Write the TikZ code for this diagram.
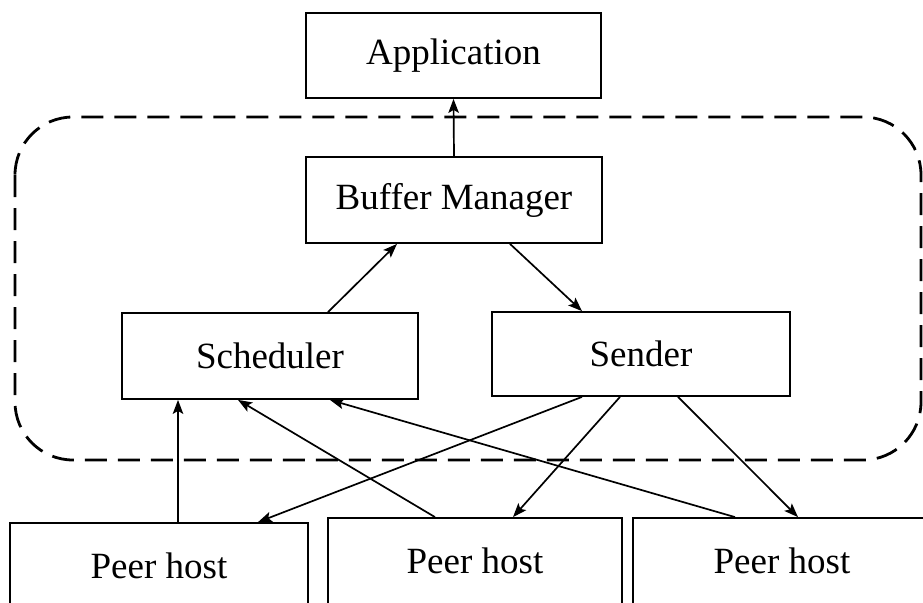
\documentclass[tikz,border=0pt]{standalone}
\usepackage{fontspec}
\setmainfont{Liberation Serif}
\usetikzlibrary{arrows.meta}

\begin{document}
\begin{tikzpicture}[x=1pt,y=-1pt,
    box/.style={draw, line width=1.8pt, inner sep=0pt,
      font=\fontsize{37}{40}\selectfont},
    link/.style={line width=1.7pt,
      -{Stealth[length=14pt,width=10.5pt,inset=3pt]}},
    group/.style={line width=2.8pt, dash pattern=on 22pt off 11pt,
      rounded corners=58pt}]
  \clip (0,0) rectangle (923,602);
  \fill[white] (0,0) rectangle (923,602);

  % the node-local component group
  \draw[group] (15,117) rectangle (921,460);

  % components
  \node[box, minimum width=295pt, minimum height=85pt] (app) at (453.5,55.5) {Application};
  \node[box, minimum width=296pt, minimum height=86pt] (bm) at (454,200) {Buffer Manager};
  \node[box, minimum width=296pt, minimum height=86pt] (sched) at (270,356) {Scheduler};
  \node[box, minimum width=298pt, minimum height=84pt] (send) at (641,354) {Sender};

  % remote peers
  \node[box, minimum width=298pt, minimum height=86pt] (p1) at (159,566) {Peer host};
  \node[box, minimum width=294pt, minimum height=86pt] (p2) at (475,561) {Peer host};
  \node[box, minimum width=298pt, minimum height=86pt] (p3) at (782,561) {Peer host};

  % internal data flow
  \draw[link] (bm.north) -- (app.south);
  \draw[link] ([xshift=58pt]sched.north) -- ([xshift=-57pt]bm.south);
  \draw[link] ([xshift=56pt]bm.south) -- ([xshift=-59pt]send.north);

  % peers feeding the scheduler
  \draw[link] ([xshift=19pt]p1.north) -- ([xshift=-92pt]sched.south);
  \draw[link] ([xshift=-40pt]p2.north) -- ([xshift=-32pt]sched.south);
  \draw[link] ([xshift=-47pt]p3.north) -- ([xshift=60pt]sched.south);

  % sender pushing to peers
  \draw[link] ([xshift=-59pt]send.south) -- ([xshift=99pt]p1.north);
  \draw[link] ([xshift=-21pt]send.south) -- ([xshift=38pt]p2.north);
  \draw[link] ([xshift=37pt]send.south) -- ([xshift=16pt]p3.north);
\end{tikzpicture}
\end{document}
